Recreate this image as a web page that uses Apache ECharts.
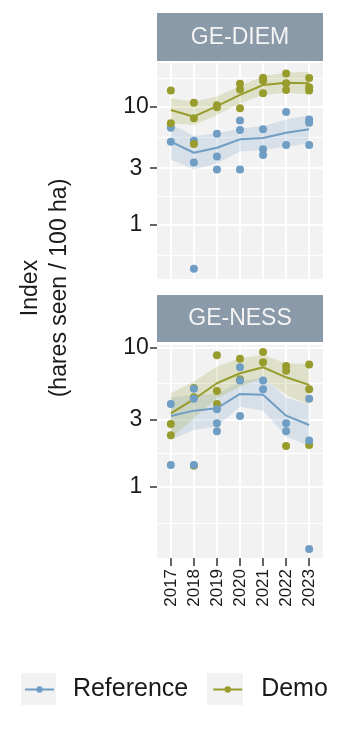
<!DOCTYPE html>
<html><head><meta charset="utf-8">
<script src="https://cdn.jsdelivr.net/npm/echarts@6/dist/echarts.min.js"></script>
<style>html,body{margin:0;padding:0;background:#fff}#c{width:359px;height:730px}</style>
</head><body><div id="c"></div>
<script>
// ---------- data ----------
const years = ['2017', '2018', '2019', '2020', '2021', '2022', '2023'];
const panels = ['GE-DIEM', 'GE-NESS'];
const seriesNames = ['Reference', 'Demo'];
const yTicks = [1, 3, 10];
const yMinor = [0.548, 1.73, 5.48, 17.3];

// GE-DIEM
const diemRefPoints = [[6.63, 5.04], [5.14, 3.36, 0.419], [5.89, 3.78, 2.93], [7.65, 6.33, 2.93], [6.42, 4.34, 3.88], [9.01, 4.72], [7.80, 7.31, 4.72]];
const diemDemoPoints = [[13.7, 7.22], [10.8, 7.96, 4.81], [10.3, 9.87], [15.7, 14.0, 9.68], [17.6, 16.6, 13.0], [19.2, 15.8, 13.9], [17.5, 14.6, 13.7]];
const diemRefLine = [5.04, 4.06, 4.48, 5.28, 5.42, 6.01, 6.42];
const diemDemoLine = [9.37, 8.22, 10.1, 12.6, 15.3, 16.0, 15.8];
const diemRefLo = [3.56, 2.93, 3.29, 4.15, 4.28, 4.57, 4.88];
const diemRefHi = [7.12, 5.63, 5.93, 6.54, 6.85, 7.80, 8.49];
const diemDemoLo = [7.2, 7.0, 8.49, 10.7, 12.6, 13.15, 12.7];
const diemDemoHi = [11.8, 11.0, 12.2, 15.0, 18.2, 19.5, 19.8];

// GE-NESS
const nessRefPoints = [[3.92, 1.43], [5.05, 4.28, 1.43], [3.59, 2.85, 2.50], [7.19, 5.77, 3.21], [5.77, 5.00], [2.85, 2.50], [4.28, 2.14, 0.357]];
const nessDemoPoints = [[2.82, 2.34], [5.11, 4.38, 1.41], [8.76, 4.86, 3.92], [8.29, 5.89], [9.26, 7.80], [7.35, 6.80, 1.96], [7.51, 5.00, 1.99]];
const nessRefLine = [3.21, 3.51, 3.65, 4.63, 4.57, 3.23, 2.77];
const nessDemoLine = [3.36, 4.24, 5.52, 6.51, 7.19, 6.09, 5.37];
const nessRefLo = [2.16, 2.55, 2.70, 3.75, 3.51, 2.29, 1.96];
const nessRefHi = [4.38, 4.55, 4.63, 5.67, 6.09, 4.38, 3.86];
const nessDemoLo = [2.22, 3.09, 4.31, 5.22, 5.99, 4.55, 3.86];
const nessDemoHi = [4.68, 5.67, 7.27, 8.34, 8.81, 7.68, 7.59];

// ---------- styling ----------
const FONT = '"Liberation Sans", Arial, sans-serif';
const BLUE = '#6f9dc4';
const OLIVE = '#989c2c';
const BLUE_BAND = 'rgba(111,157,196,0.2)';
const OLIVE_BAND = 'rgba(152,156,44,0.2)';
const TXT = '#1a1a1a';
const L = v => Math.log10(v);
const xIdx = years.map((_, i) => i);

function pts(arr) { const o = []; arr.forEach((vals, i) => vals.forEach(v => o.push([i, L(v)]))); return o; }
function ln(arr) { return arr.map((v, i) => [i, L(v)]); }

function bandSeries(id, lo, hi, color, xi, yi) {
  return {
    type: 'custom', name: id + '-band', xAxisIndex: xi, yAxisIndex: yi, silent: true, z: 1,
    data: lo.map((v, i) => [i, L(v), L(hi[i])]),
    encode: { x: 0, y: [1, 2] },
    renderItem: (params, api) => {
      if (params.dataIndex !== 0) return null;
      const top = hi.map((v, i) => api.coord([i, L(v)]));
      const bot = lo.map((v, i) => api.coord([i, L(v)])).reverse();
      return { type: 'polygon', shape: { points: top.concat(bot) }, style: { fill: color } };
    }
  };
}
function lineSeries(name, arr, color, xi, yi) {
  return { type: 'line', name: name, xAxisIndex: xi, yAxisIndex: yi, data: ln(arr), symbol: 'circle', symbolSize: 7, showSymbol: false, itemStyle: { color: color }, lineStyle: { color: color, width: 2 }, z: 2 };
}
function pointSeries(name, arr, color, xi, yi, z) {
  return { type: 'scatter', name: name + '-pts', xAxisIndex: xi, yAxisIndex: yi, data: pts(arr), symbol: 'circle', symbolSize: 8, itemStyle: { color: color, opacity: 1 }, z: z };
}

function xAxis(gi, showLabels) {
  return {
    gridIndex: gi, type: 'value', min: -0.6, max: 6.6, position: 'bottom',
    axisLine: { show: false, onZero: false },
    axisTick: { show: showLabels, length: 8, customValues: xIdx, lineStyle: { color: '#333', width: 1.5 } },
    axisLabel: { show: showLabels, customValues: xIdx, rotate: 90, margin: 11, fontSize: 17, fontFamily: FONT, color: TXT, formatter: v => years[Math.round(v)] },
    splitLine: { show: true, lineStyle: { color: '#ffffff', width: 2 } }
  };
}
function yMajor(gi, min, max) {
  return {
    gridIndex: gi, type: 'value', min: min, max: max, position: 'left',
    axisLine: { show: false, onZero: false },
    axisTick: { show: true, length: 7, customValues: yTicks.map(L), lineStyle: { color: '#333', width: 1.5 } },
    axisLabel: { customValues: yTicks.map(L), align: 'center', margin: 21, fontSize: 23, fontFamily: FONT, color: TXT,
      formatter: v => { const t = yTicks.find(t => Math.abs(L(t) - v) < 1e-6); return t === undefined ? '' : String(t); } },
    splitLine: { show: true, lineStyle: { color: '#ffffff', width: 2 } }
  };
}
function yMinorAxis(gi, min, max) {
  return {
    gridIndex: gi, type: 'value', min: min, max: max, position: 'left',
    axisLine: { show: false, onZero: false },
    axisTick: { show: false, customValues: yMinor.map(L) },
    axisLabel: { show: false },
    splitLine: { show: true, lineStyle: { color: '#ffffff', width: 1 } }
  };
}

const chart = echarts.init(document.getElementById('c'), null, { renderer: 'canvas' });
chart.setOption({
  animation: false,
  backgroundColor: '#ffffff',
  grid: [
    { left: 157, top: 63, width: 166, height: 216, show: true, backgroundColor: '#f2f2f2', borderWidth: 0 },
    { left: 157, top: 345, width: 166, height: 213, show: true, backgroundColor: '#f2f2f2', borderWidth: 0 }
  ],
  xAxis: [xAxis(0, false), xAxis(1, true)],
  yAxis: [yMajor(0, -0.465, 1.3716), yMinorAxis(0, -0.465, 1.3716), yMajor(1, -0.5126, 1.0165), yMinorAxis(1, -0.5126, 1.0165)],
  legend: {
    data: seriesNames, left: 19, top: 672, itemWidth: 29, itemHeight: 8, itemGap: 24, padding: 5,
    formatter: n => '  ' + n,
    textStyle: { fontSize: 25, fontFamily: FONT, color: TXT }
  },
  graphic: [
    { type: 'rect', shape: { x: 157, y: 13, width: 166, height: 48 }, style: { fill: '#8a9aa8' } },
    { type: 'text', x: 240, y: 38, style: { text: panels[0], fill: '#f4f4f4', font: '23px ' + FONT, align: 'center', verticalAlign: 'middle', textAlign: 'center', textVerticalAlign: 'middle' } },
    { type: 'rect', shape: { x: 157, y: 295, width: 166, height: 47 }, style: { fill: '#8a9aa8' } },
    { type: 'text', x: 240, y: 319, style: { text: panels[1], fill: '#f4f4f4', font: '23px ' + FONT, align: 'center', verticalAlign: 'middle', textAlign: 'center', textVerticalAlign: 'middle' } },
    { type: 'text', x: 31, y: 288, rotation: Math.PI / 2, style: { text: 'Index', fill: TXT, font: '23px ' + FONT, align: 'center', verticalAlign: 'middle', textAlign: 'center', textVerticalAlign: 'middle' } },
    { type: 'text', x: 60, y: 288, rotation: Math.PI / 2, style: { text: '(hares seen / 100 ha)', fill: TXT, font: '23px ' + FONT, align: 'center', verticalAlign: 'middle', textAlign: 'center', textVerticalAlign: 'middle' } },
    { type: 'rect', shape: { x: 21, y: 673, width: 35, height: 32 }, style: { fill: '#f2f2f2' } },
    { type: 'rect', shape: { x: 207, y: 673, width: 36, height: 32 }, style: { fill: '#f2f2f2' } }
  ],
  series: [
    bandSeries('dRef', diemRefLo, diemRefHi, BLUE_BAND, 0, 0),
    bandSeries('dDemo', diemDemoLo, diemDemoHi, OLIVE_BAND, 0, 0),
    lineSeries('Reference', diemRefLine, BLUE, 0, 0),
    lineSeries('Demo', diemDemoLine, OLIVE, 0, 0),
    pointSeries('dRef', diemRefPoints, BLUE, 0, 0, 3),
    pointSeries('dDemo', diemDemoPoints, OLIVE, 0, 0, 4),
    bandSeries('nRef', nessRefLo, nessRefHi, BLUE_BAND, 1, 2),
    bandSeries('nDemo', nessDemoLo, nessDemoHi, OLIVE_BAND, 1, 2),
    lineSeries('Reference', nessRefLine, BLUE, 1, 2),
    lineSeries('Demo', nessDemoLine, OLIVE, 1, 2),
    pointSeries('nDemo', nessDemoPoints, OLIVE, 1, 2, 3),
    pointSeries('nRef', nessRefPoints, BLUE, 1, 2, 4)
  ]
});
</script>
</body></html>
